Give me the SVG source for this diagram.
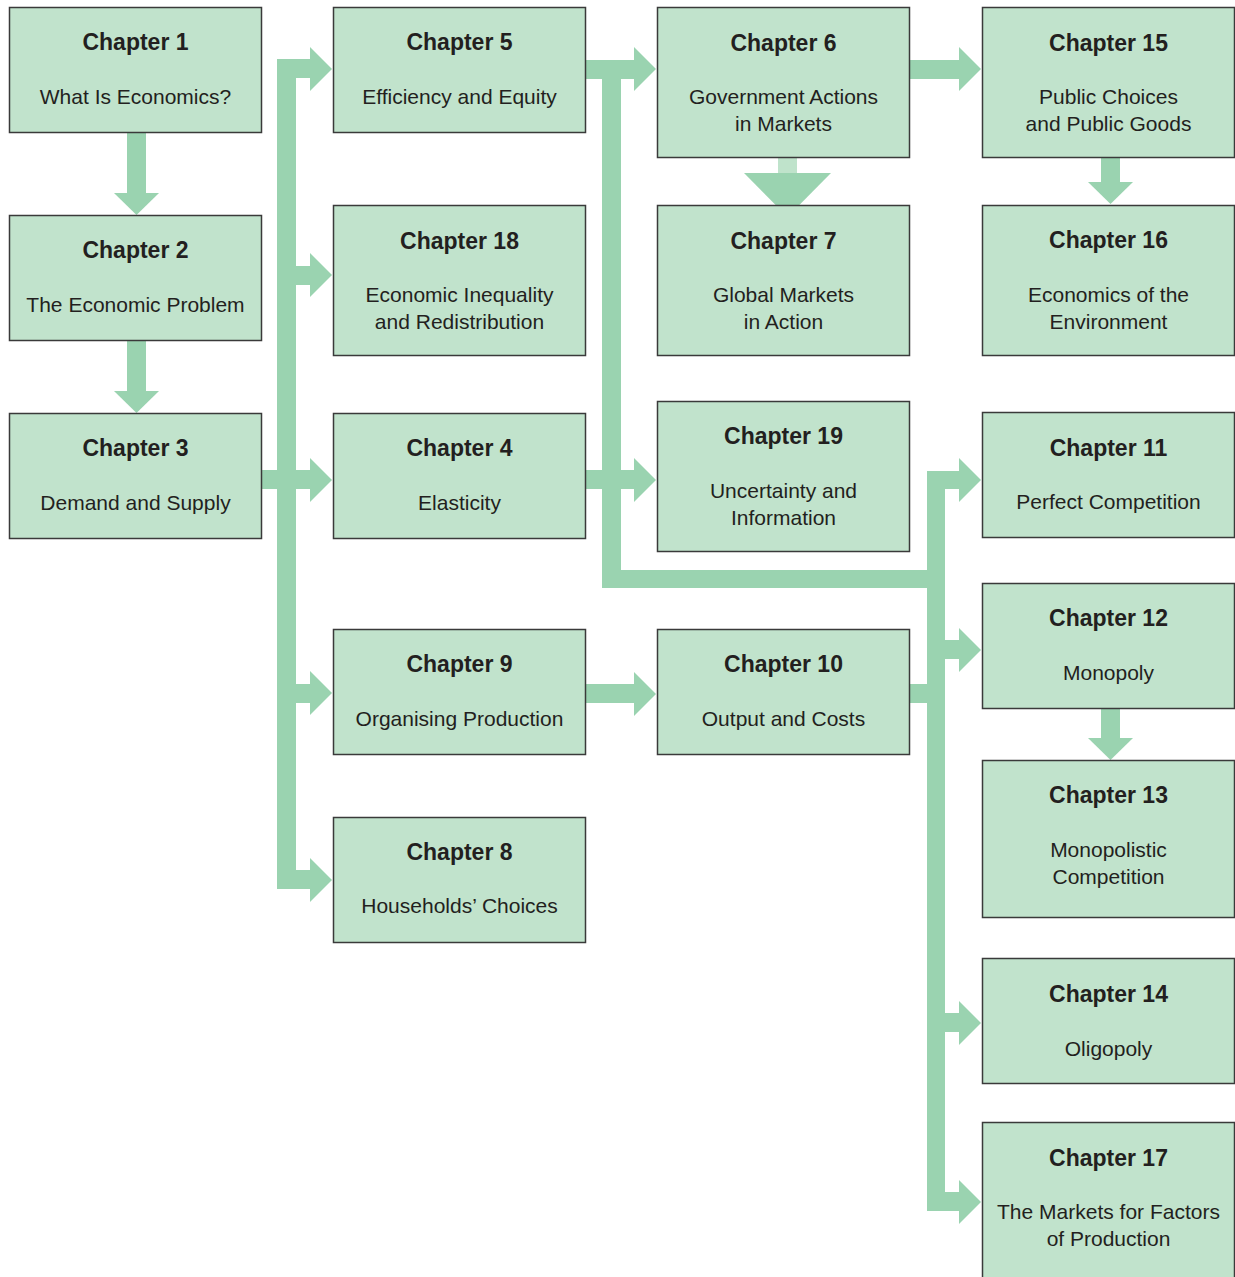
<svg xmlns="http://www.w3.org/2000/svg" width="1235" height="1277" viewBox="0 0 1235 1277">
<style>
.arr{fill:#9AD3B0}
.lt{fill:#BFE3CB}
.box rect{fill:#C1E3CC;stroke:#3a3a3a;stroke-width:1.5}
.t{font-family:"Liberation Sans",Arial,sans-serif;font-weight:bold;font-size:23px;fill:#231f20;text-anchor:middle}
.b{font-family:"Liberation Sans",Arial,sans-serif;font-size:21px;fill:#231f20;text-anchor:middle}
</style>
<rect width="1235" height="1277" fill="#fff"/>
<g id="connectors">
<rect class="arr" x="127" y="131" width="19" height="63"/>
<polygon class="arr" points="114,193 136.5,215 159,193"/>
<rect class="arr" x="127" y="340" width="19" height="52"/>
<polygon class="arr" points="114,391 136.5,413 159,391"/>
<rect class="arr" x="277" y="59" width="19" height="830"/>
<rect class="arr" x="277" y="59" width="34" height="19"/>
<polygon class="arr" points="310,47 332,69 310,91"/>
<rect class="arr" x="295" y="266" width="16" height="19"/>
<polygon class="arr" points="310,253 332,275 310,297"/>
<rect class="arr" x="261" y="470" width="50" height="19"/>
<polygon class="arr" points="310,458 332,480 310,502"/>
<rect class="arr" x="295" y="684" width="16" height="19"/>
<polygon class="arr" points="310,671 332,693 310,715"/>
<rect class="arr" x="277" y="870" width="34" height="19"/>
<polygon class="arr" points="310,858 332,880 310,902"/>
<rect class="arr" x="602" y="60" width="19" height="528"/>
<rect class="arr" x="585" y="60" width="50" height="19"/>
<polygon class="arr" points="634,47 656,69 634,91"/>
<rect class="arr" x="585" y="470" width="50" height="19"/>
<polygon class="arr" points="634,458 656,480 634,502"/>
<rect class="arr" x="602" y="570" width="343" height="18"/>
<rect class="arr" x="585" y="684" width="50" height="19"/>
<polygon class="arr" points="634,672 656,694 634,716"/>
<rect class="arr" x="909" y="60" width="51" height="19"/>
<polygon class="arr" points="959,47 981,69 959,91"/>
<rect class="lt" x="778" y="157" width="19" height="26"/>
<polygon class="arr" points="744,173 787.5,217 831,173"/>
<rect class="arr" x="1101" y="157" width="19" height="26"/>
<polygon class="arr" points="1088,182 1110.5,204 1133,182"/>
<rect class="arr" x="927" y="471" width="18" height="740"/>
<rect class="arr" x="927" y="471" width="33" height="18"/>
<polygon class="arr" points="959,458 981,480 959,502"/>
<rect class="arr" x="945" y="640" width="15" height="19"/>
<polygon class="arr" points="959,628 981,650 959,672"/>
<rect class="arr" x="909" y="684" width="19" height="19"/>
<rect class="arr" x="1101" y="708" width="19" height="31"/>
<polygon class="arr" points="1088,738 1110.5,760 1133,738"/>
<rect class="arr" x="945" y="1013" width="15" height="19"/>
<polygon class="arr" points="959,1001 981,1023 959,1045"/>
<rect class="arr" x="927" y="1192" width="33" height="19"/>
<polygon class="arr" points="959,1180 981,1202 959,1224"/>
</g>
<g id="ch1" class="box"><rect x="9.5" y="7.5" width="252" height="125"/><text class="t" x="135.5" y="50">Chapter 1</text><text class="b" x="135.5" y="104">What Is Economics?</text></g>
<g id="ch2" class="box"><rect x="9.5" y="215.5" width="252" height="125"/><text class="t" x="135.5" y="258">Chapter 2</text><text class="b" x="135.5" y="312">The Economic Problem</text></g>
<g id="ch3" class="box"><rect x="9.5" y="413.5" width="252" height="125"/><text class="t" x="135.5" y="456">Chapter 3</text><text class="b" x="135.5" y="510">Demand and Supply</text></g>
<g id="ch5" class="box"><rect x="333.5" y="7.5" width="252" height="125"/><text class="t" x="459.5" y="50">Chapter 5</text><text class="b" x="459.5" y="104">Efficiency and Equity</text></g>
<g id="ch18" class="box"><rect x="333.5" y="205.5" width="252" height="150"/><text class="t" x="459.5" y="249">Chapter 18</text><text class="b" x="459.5" y="302">Economic Inequality</text><text class="b" x="459.5" y="329">and Redistribution</text></g>
<g id="ch4" class="box"><rect x="333.5" y="413.5" width="252" height="125"/><text class="t" x="459.5" y="456">Chapter 4</text><text class="b" x="459.5" y="510">Elasticity</text></g>
<g id="ch9" class="box"><rect x="333.5" y="629.5" width="252" height="125"/><text class="t" x="459.5" y="672">Chapter 9</text><text class="b" x="459.5" y="726">Organising Production</text></g>
<g id="ch8" class="box"><rect x="333.5" y="817.5" width="252" height="125"/><text class="t" x="459.5" y="860">Chapter 8</text><text class="b" x="459.5" y="913">Households’ Choices</text></g>
<g id="ch6" class="box"><rect x="657.5" y="7.5" width="252" height="150"/><text class="t" x="783.5" y="51">Chapter 6</text><text class="b" x="783.5" y="104">Government Actions</text><text class="b" x="783.5" y="131">in Markets</text></g>
<g id="ch7" class="box"><rect x="657.5" y="205.5" width="252" height="150"/><text class="t" x="783.5" y="249">Chapter 7</text><text class="b" x="783.5" y="302">Global Markets</text><text class="b" x="783.5" y="329">in Action</text></g>
<g id="ch19" class="box"><rect x="657.5" y="401.5" width="252" height="150"/><text class="t" x="783.5" y="444">Chapter 19</text><text class="b" x="783.5" y="498">Uncertainty and</text><text class="b" x="783.5" y="525">Information</text></g>
<g id="ch10" class="box"><rect x="657.5" y="629.5" width="252" height="125"/><text class="t" x="783.5" y="672">Chapter 10</text><text class="b" x="783.5" y="726">Output and Costs</text></g>
<g id="ch15" class="box"><rect x="982.5" y="7.5" width="252" height="150"/><text class="t" x="1108.5" y="51">Chapter 15</text><text class="b" x="1108.5" y="104">Public Choices</text><text class="b" x="1108.5" y="131">and Public Goods</text></g>
<g id="ch16" class="box"><rect x="982.5" y="205.5" width="252" height="150"/><text class="t" x="1108.5" y="248">Chapter 16</text><text class="b" x="1108.5" y="302">Economics of the</text><text class="b" x="1108.5" y="329">Environment</text></g>
<g id="ch11" class="box"><rect x="982.5" y="412.5" width="252" height="125"/><text class="t" x="1108.5" y="456">Chapter 11</text><text class="b" x="1108.5" y="509">Perfect Competition</text></g>
<g id="ch12" class="box"><rect x="982.5" y="583.5" width="252" height="125"/><text class="t" x="1108.5" y="626">Chapter 12</text><text class="b" x="1108.5" y="680">Monopoly</text></g>
<g id="ch13" class="box"><rect x="982.5" y="760.5" width="252" height="157"/><text class="t" x="1108.5" y="803">Chapter 13</text><text class="b" x="1108.5" y="857">Monopolistic</text><text class="b" x="1108.5" y="884">Competition</text></g>
<g id="ch14" class="box"><rect x="982.5" y="958.5" width="252" height="125"/><text class="t" x="1108.5" y="1002">Chapter 14</text><text class="b" x="1108.5" y="1056">Oligopoly</text></g>
<g id="ch17" class="box"><rect x="982.5" y="1122.5" width="252" height="160"/><text class="t" x="1108.5" y="1166">Chapter 17</text><text class="b" x="1108.5" y="1219">The Markets for Factors</text><text class="b" x="1108.5" y="1246">of Production</text></g>
</svg>
